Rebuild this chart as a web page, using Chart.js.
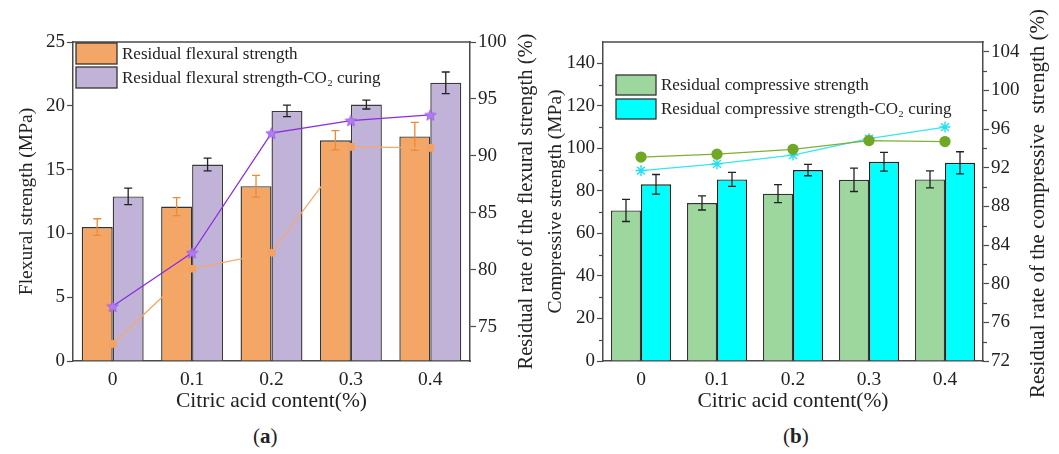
<!DOCTYPE html>
<html><head><meta charset="utf-8">
<script src="https://cdn.jsdelivr.net/npm/chart.js@4/dist/chart.umd.min.js"></script>
<style>
body{margin:0;background:#fff;width:1059px;height:454px;overflow:hidden;position:relative;font-family:'Liberation Serif',serif;}
#wa{position:absolute;left:0;top:0;width:540px;height:420px;}
#wb{position:absolute;left:530px;top:0;width:529px;height:420px;}
.lab{position:absolute;top:424px;font-size:21px;color:#222;}
</style></head><body>
<div id="wb"><canvas id="cb"></canvas></div>
<div id="wa"><canvas id="ca"></canvas></div>
<div class="lab" style="left:253px">(<b>a</b>)</div>
<div class="lab" style="left:783px">(<b>b</b>)</div>
<script>
// ---------- data ----------
const categories = ['0', '0.1', '0.2', '0.3', '0.4'];
const flexural = [10.5, 12.1, 13.7, 17.3, 17.6];
const flexuralErr = [0.65, 0.7, 0.85, 0.75, 1.1];
const flexuralCO2 = [12.9, 15.4, 19.6, 20.1, 21.8];
const flexuralCO2Err = [0.65, 0.5, 0.45, 0.35, 0.85];
const flexuralRate = [73.5, 80.1, 81.5, 90.8, 90.7];
const flexuralCO2Rate = [76.8, 81.5, 92.0, 93.1, 93.6];
const compressive = [70.8, 74.3, 78.7, 85.2, 85.4];
const compressiveErr = [5.2, 3.3, 4.2, 5.5, 4.0];
const compressiveCO2 = [83.1, 85.4, 89.8, 93.7, 93.2];
const compressiveCO2Err = [4.6, 3.3, 2.7, 4.4, 5.2];
const compressiveRate = [93.1, 93.4, 93.9, 94.8, 94.7];
const compressiveCO2Rate = [91.7, 92.4, 93.3, 95.0, 96.2];
const flexLeftTicks = [0, 5, 10, 15, 20, 25];
const flexRightTicks = [75, 80, 85, 90, 95, 100];
const compLeftTicks = [0, 20, 40, 60, 80, 100, 120, 140];
const compLeftMinor = [10, 30, 50, 70, 90, 110, 130];
const compRightTicks = [72, 76, 80, 84, 88, 92, 96, 100, 104];
const compRightMinor = [74, 78, 82, 86, 90, 94, 98, 102];

const FONT = "'Liberation Serif', serif";
const TXT = '#222';
const AXIS = '#4a4a4a';

function starCanvas(size, fill, stroke) {
  const c = document.createElement('canvas'); c.width = c.height = size;
  const g = c.getContext('2d'); const cx = size / 2, cy = size / 2 + 0.5, R = size / 2 - 0.5, r = R * 0.45;
  g.beginPath();
  for (let k = 0; k < 10; k++) { const a = -Math.PI / 2 + k * Math.PI / 5; const rr = k % 2 ? r : R; g.lineTo(cx + rr * Math.cos(a), cy + rr * Math.sin(a)); }
  g.closePath(); g.fillStyle = fill; g.fill(); g.strokeStyle = stroke; g.lineWidth = 0.8; g.stroke();
  return c;
}

const errorBars = {
  id: 'errorBars',
  afterDatasetDraw(chart, args) {
    const ds = chart.data.datasets[args.index];
    if (!ds.errors) return;
    const meta = args.meta; const ys = chart.scales[meta.yAxisID];
    const ctx = chart.ctx; ctx.save(); ctx.strokeStyle = ds.errorColor; ctx.lineWidth = 1.3;
    meta.data.forEach((el, i) => {
      const v = ds.data[i], e = ds.errors[i];
      const x = el.x, y1 = ys.getPixelForValue(v + e), y2 = ys.getPixelForValue(v - e);
      ctx.beginPath(); ctx.moveTo(x, y1); ctx.lineTo(x, y2);
      ctx.moveTo(x - 4, y1); ctx.lineTo(x + 4, y1); ctx.moveTo(x - 4, y2); ctx.lineTo(x + 4, y2); ctx.stroke();
    });
    ctx.restore();
  }
};

// top border, minor ticks, and right-hand axis title (reads bottom-to-top)
const frame = {
  id: 'frame',
  afterDraw(chart, args, opts) {
    const a = chart.chartArea, ctx = chart.ctx;
    ctx.save(); ctx.strokeStyle = AXIS; ctx.lineWidth = 1.5;
    ctx.beginPath(); ctx.moveTo(a.left - 0.75, a.top); ctx.lineTo(a.right + 0.75, a.top); ctx.stroke();
    ctx.lineWidth = 1.2;
    (opts.minorLeft || []).forEach(v => {
      const y = Math.round(chart.scales.y.getPixelForValue(v)) + 0.5;
      ctx.beginPath(); ctx.moveTo(a.left - 4, y); ctx.lineTo(a.left, y); ctx.stroke();
    });
    (opts.minorRight || []).forEach(v => {
      const y = Math.round(chart.scales.y1.getPixelForValue(v)) + 0.5;
      ctx.beginPath(); ctx.moveTo(a.right, y); ctx.lineTo(a.right + 4, y); ctx.stroke();
    });
    ctx.translate(opts.titleX, (a.top + a.bottom) / 2 + (opts.titleDy || 0));
    ctx.rotate(-Math.PI / 2);
    ctx.font = opts.titleSize + 'px ' + FONT; ctx.fillStyle = TXT; ctx.textAlign = 'center'; ctx.textBaseline = 'middle';
    ctx.fillText(opts.title, 0, 0);
    ctx.restore();
  }
};

const boxLegend = {
  id: 'boxLegend',
  afterDraw(chart, args, opts) {
    const a = chart.chartArea, ctx = chart.ctx;
    ctx.save();
    ctx.font = opts.fontSize + 'px ' + FONT; ctx.textBaseline = 'middle'; ctx.fillStyle = TXT;
    let idx = 0;
    chart.data.datasets.forEach(ds => {
      if (ds.type !== 'bar') return;
      const x = a.left + opts.dx, y = a.top + opts.dy + idx * opts.step;
      ctx.fillStyle = ds.backgroundColor; ctx.fillRect(x, y, opts.w, opts.h);
      ctx.strokeStyle = '#333'; ctx.lineWidth = 1.3; ctx.strokeRect(x, y, opts.w, opts.h);
      ctx.fillStyle = TXT; ctx.fillText(ds.label, x + opts.w + 5, y + opts.h / 2 + 1);
      idx++;
    });
    ctx.restore();
  }
};

function yAxis(pos, min, max, tickVals, title, width, titlePad) {
  return {
    type: 'linear', position: pos, min: min, max: max,
    afterBuildTicks(s) { s.ticks = tickVals.map(v => ({ value: v })); },
    afterFit(s) { s.width = width; },
    grid: { display: true, drawOnChartArea: false, drawTicks: true, tickLength: 6, color: AXIS, tickColor: AXIS, tickWidth: 1.2 },
    border: { display: true, color: AXIS, width: 1.5 },
    ticks: { font: { family: FONT, size: 19 }, color: TXT, padding: 2 },
    title: { display: !!title, text: title || '', font: { family: FONT, size: 19.5 }, color: TXT, padding: { top: titlePad, bottom: 0 } }
  };
}

function xAxis() {
  return {
    type: 'category', offset: true,
    afterFit(s) { s.height = 59; },
    grid: { display: false, drawTicks: false },
    border: { display: true, color: AXIS, width: 1.5 },
    ticks: { font: { family: FONT, size: 19.5 }, color: TXT, padding: 7 },
    title: { display: true, text: 'Citric acid content(%)', font: { family: FONT, size: 21.5 }, color: TXT, padding: { top: 0, bottom: 6 } }
  };
}

new Chart(document.getElementById('ca'), {
  data: {
    labels: categories,
    datasets: [
      { type: 'line', label: 'rate', data: flexuralRate, yAxisID: 'y1', order: 0,
        borderColor: '#F4A96B', borderWidth: 1.3, pointStyle: 'rect', pointRadius: 4.5,
        pointBackgroundColor: '#F3A263', pointBorderColor: '#F3A263', tension: 0 },
      { type: 'line', label: 'rateCO2', data: flexuralCO2Rate, yAxisID: 'y1', order: 0,
        borderColor: '#8A2BE2', borderWidth: 1.2, pointStyle: starCanvas(13, '#B07CF2', '#9A55EA'), tension: 0 },
      { type: 'bar', label: 'Residual flexural strength', data: flexural, yAxisID: 'y', order: 1,
        backgroundColor: '#F3A665', borderColor: '#333', borderWidth: 1.4,
        errors: flexuralErr, errorColor: '#EE8A35', categoryPercentage: 0.78, barPercentage: 1.0 },
      { type: 'bar', label: 'Residual flexural strength-CO\u2082 curing', data: flexuralCO2, yAxisID: 'y', order: 1,
        backgroundColor: '#C1B2D8', borderColor: '#3a3a3a', borderWidth: 1.4,
        errors: flexuralCO2Err, errorColor: '#222', categoryPercentage: 0.78, barPercentage: 1.0 }
    ]
  },
  options: {
    responsive: true, maintainAspectRatio: false, animation: false,
    layout: { padding: { top: 42, left: 0, right: 0, bottom: 0 } },
    plugins: { legend: { display: false }, tooltip: { enabled: false },
      boxLegend: { dx: 3, dy: 1, step: 24, w: 41, h: 21, fontSize: 17 },
      frame: { titleX: 527, titleDy: 0, titleSize: 20.5, title: 'Residual rate of the flexural strength (%)' } },
    scales: {
      x: xAxis(),
      y: yAxis('left', 0, 25, flexLeftTicks, 'Flexural strength (MPa)', 73, 15),
      y1: yAxis('right', 72, 100, flexRightTicks, '', 70, 0)
    }
  },
  plugins: [errorBars, frame, boxLegend]
});

new Chart(document.getElementById('cb'), {
  data: {
    labels: categories,
    datasets: [
      { type: 'line', label: 'rate', data: compressiveRate, yAxisID: 'y1', order: 0,
        borderColor: '#7FB034', borderWidth: 1.3, pointStyle: 'circle', pointRadius: 5,
        pointBackgroundColor: '#6FA824', pointBorderColor: '#6FA824', tension: 0 },
      { type: 'line', label: 'rateCO2', data: compressiveCO2Rate, yAxisID: 'y1', order: 0,
        borderColor: '#33E6F2', borderWidth: 1.3, pointStyle: 'star', pointRadius: 5.5,
        pointBorderColor: '#22E0F0', pointBorderWidth: 1.4, tension: 0 },
      { type: 'bar', label: 'Residual compressive strength', data: compressive, yAxisID: 'y', order: 1,
        backgroundColor: '#9ED79D', borderColor: '#333', borderWidth: 1.4,
        errors: compressiveErr, errorColor: '#222', categoryPercentage: 0.79, barPercentage: 1.0 },
      { type: 'bar', label: 'Residual compressive strength-CO\u2082 curing', data: compressiveCO2, yAxisID: 'y', order: 1,
        backgroundColor: '#00FFFF', borderColor: '#222', borderWidth: 1.4,
        errors: compressiveCO2Err, errorColor: '#222', categoryPercentage: 0.79, barPercentage: 1.0 }
    ]
  },
  options: {
    responsive: true, maintainAspectRatio: false, animation: false,
    layout: { padding: { top: 42, left: 0, right: 0, bottom: 0 } },
    plugins: { legend: { display: false }, tooltip: { enabled: false },
      boxLegend: { dx: 13, dy: 33, step: 24, w: 40, h: 20, fontSize: 17 },
      frame: { titleX: 508, titleDy: 2, titleSize: 21, title: 'Residual rate of the compressive  strength (%)',
        minorLeft: compLeftMinor, minorRight: compRightMinor } },
    scales: {
      x: xAxis(),
      y: yAxis('left', 0, 150, compLeftTicks, 'Compressive strength (MPa)', 73, 14),
      y1: yAxis('right', 72, 105, compRightTicks, '', 76, 0)
    }
  },
  plugins: [errorBars, frame, boxLegend]
});
</script>
</body></html>
